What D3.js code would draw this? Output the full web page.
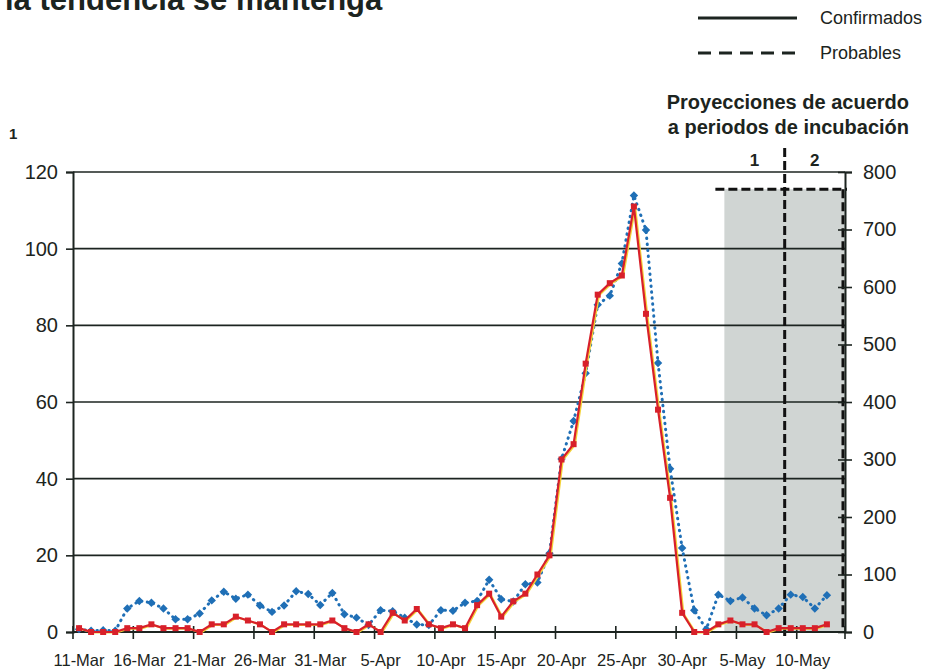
<!DOCTYPE html>
<html>
<head>
<meta charset="utf-8">
<script src="https://cdn.jsdelivr.net/npm/d3@7"></script>
<style>
	body { margin: 0; background: #fff; }
	svg { display: block; font-family: "Liberation Sans", Arial, sans-serif; }
</style>
</head>
<body>
<svg id="chart" width="939" height="669"></svg>
<script>
// categories: one per day, 11-Mar .. 13-May
var startDay = new Date(2009, 2, 11), endDay = new Date(2009, 4, 14);
var days = d3.timeDay.range(startDay, endDay);
var tickLabels = ["11-Mar","16-Mar","21-Mar","26-Mar","31-Mar","5-Apr","10-Apr","15-Apr","20-Apr","25-Apr","30-Apr","5-May","10-May"];

// confirmed cases, left axis
var confirmados = [1,0,0,0,1,1,2,1,1,1, 0,2,2,4,3,2,0,2,2,2,
	2,3,1,0,2,0,5,3,6,2, 1,2,1,7,10,4,8,10,15,20,
	45,49,70,88,91,93,111,83,58,35, 5,0,0,2,3,2,2,0,1,1, 1,1,2,null];
// probable cases, right axis
var probables = [5,2,3,2,41,54,51,41,22,22, 32,55,70,58,65,46,35,46,71,66,
	47,68,31,25,12,38,36,25,13,12, 38,37,51,54,91,57,53,83,86,137,
	301,367,450,569,585,641,759,699,468,284, 146,38,5,65,54,60,41,29,41,65, 61,41,64,null];

var leftTicks = [0,20,40,60,80,100,120];
var rightTicks = [0,100,200,300,400,500,600,700,800];
var legendLabels = ["Confirmados","Probables"];
var periodLabels = ["1","2"];
var periodStarts = [54, 59];   // index of 4-May and 9-May
var projectionTop = 770;       // right-axis units

var ink = "#1c2420";
var svg = d3.select("#chart");
var x0 = 73, x1 = 845, yTop = 172, yBot = 632;

var x = d3.scaleBand().domain(d3.range(days.length)).range([x0, x1]).padding(0);
var yL = d3.scaleLinear().domain([0,120]).range([yBot, yTop]);
var yR = d3.scaleLinear().domain([0,800]).range([yBot, yTop]);
var fmt = d3.timeFormat("%-d-%b");
var cx = function(i) {return x(i) + x.bandwidth()/2;};

// title (cut at the top like the scan)
svg.append("text").attr("x",5).attr("y",10).attr("font-size",31).attr("font-weight","bold")
	.attr("fill",ink).text("la tendencia se mantenga");

// legend
legendLabels.forEach(function(d,i) {
	var ly = 18 + i*35;
	svg.append("line").attr("x1",698).attr("x2",797).attr("y1",ly).attr("y2",ly)
		.attr("stroke",ink).attr("stroke-width",3)
		.attr("stroke-dasharray", i == 1 ? "13,8" : null);
	svg.append("text").attr("x",820).attr("y",ly+6).attr("font-size",18).attr("fill",ink).text(d);
});

svg.append("text").attr("x",909).attr("y",109).attr("text-anchor","end").attr("font-size",20)
	.attr("font-weight","bold").attr("fill",ink).text("Proyecciones de acuerdo");
svg.append("text").attr("x",909).attr("y",134).attr("text-anchor","end").attr("font-size",20)
	.attr("font-weight","bold").attr("fill",ink).text("a periodos de incubación");
svg.append("text").attr("x",9).attr("y",139).attr("font-size",15).attr("font-weight","bold")
	.attr("fill",ink).text("1");

// projection shading
svg.append("rect").attr("x",x(periodStarts[0])).attr("y",yR(projectionTop))
	.attr("width",x1 - x(periodStarts[0])).attr("height",yBot - yR(projectionTop))
	.attr("fill","#d0d5d3");

// grid lines
svg.append("g").selectAll("line").data(leftTicks.slice(1)).enter().append("line")
	.attr("x1",x0).attr("x2",x1).attr("y1",function(d){return yL(d);}).attr("y2",function(d){return yL(d);})
	.attr("stroke",ink).attr("stroke-width",1.6);

// dashed projection frame
var dash = svg.append("g").attr("stroke","#111").attr("stroke-width",3).attr("stroke-dasharray","9,4").attr("fill","none");
dash.append("line").attr("x1",x(periodStarts[0])-9).attr("x2",x1+2).attr("y1",yR(projectionTop)).attr("y2",yR(projectionTop));
dash.append("line").attr("x1",x(periodStarts[1])).attr("x2",x(periodStarts[1])).attr("y1",148).attr("y2",yBot+4);
dash.append("line").attr("x1",x1-2).attr("x2",x1-2).attr("y1",yR(projectionTop)).attr("y2",yBot);
svg.selectAll(".plabel").data(periodLabels).enter().append("text")
	.attr("x",function(d,i){ var a = x(periodStarts[i]); var b = i+1 < periodStarts.length ? x(periodStarts[i+1]) : x1; return (a+b)/2; })
	.attr("y",166).attr("text-anchor","middle").attr("font-size",17).attr("font-weight","bold")
	.attr("fill",ink).text(function(d){return d;});

// left axis
var gL = svg.append("g").attr("transform","translate("+x0+",0)")
	.call(d3.axisLeft(yL).tickValues(leftTicks).tickSize(7).tickPadding(8));
gL.select(".domain").attr("stroke",ink).attr("stroke-width",2);
gL.selectAll(".tick line").attr("stroke",ink).attr("stroke-width",1.6);
gL.selectAll("text").attr("font-size",20).attr("fill",ink).attr("font-family","Liberation Sans, Arial");

// right axis, ticks crossing the line
var gR = svg.append("g").attr("transform","translate("+x1+",0)")
	.call(d3.axisRight(yR).tickValues(rightTicks).tickSize(7).tickPadding(11));
gR.select(".domain").attr("stroke",ink).attr("stroke-width",2);
gR.selectAll(".tick line").attr("x1",-7).attr("stroke",ink).attr("stroke-width",1.6);
gR.selectAll("text").attr("font-size",20).attr("fill",ink).attr("font-family","Liberation Sans, Arial");

// x axis
svg.append("line").attr("x1",x0).attr("x2",x1).attr("y1",yBot).attr("y2",yBot)
	.attr("stroke",ink).attr("stroke-width",2);
var tickIdx = d3.range(days.length).filter(function(i){ return tickLabels.indexOf(fmt(days[i])) >= 0; });
svg.append("g").selectAll("line").data(tickIdx.concat([days.length])).enter().append("line")
	.attr("x1",function(i){return i < days.length ? x(i) : x1;}).attr("x2",function(i){return i < days.length ? x(i) : x1;})
	.attr("y1",yBot-6).attr("y2",yBot+7).attr("stroke",ink).attr("stroke-width",1.6);
svg.append("g").selectAll("text").data(tickIdx).enter().append("text")
	.attr("x",cx).attr("y",yBot+34)
	.attr("text-anchor","middle").attr("font-size",16.5).attr("fill",ink)
	.text(function(i){return fmt(days[i]);});

// probables: blue dotted with diamonds
var lineP = d3.line().defined(function(d){return d !== null;}).x(function(d,i){return cx(i);}).y(function(d){return yR(d);});
svg.append("path").datum(probables).attr("d",lineP).attr("fill","none")
	.attr("stroke","#1f6fb6").attr("stroke-width",3).attr("stroke-linecap","round").attr("stroke-dasharray","0.5,5.5");
svg.append("g").selectAll("rect").data(probables.map(function(d,i){return {v:d,i:i};}).filter(function(d){return d.v !== null;}))
	.enter().append("rect").attr("x",-3).attr("y",-3).attr("width",6).attr("height",6)
	.attr("transform",function(d){return "translate("+cx(d.i)+","+yR(d.v)+") rotate(45)";})
	.attr("fill","#1f6fb6");

// confirmados: red solid with squares (thin yellow fringe as in the print)
var lineC = d3.line().defined(function(d){return d !== null;}).x(function(d,i){return cx(i);}).y(function(d){return yL(d);});
svg.append("path").datum(confirmados).attr("d",lineC).attr("fill","none")
	.attr("stroke","#f3d33a").attr("stroke-width",2).attr("transform","translate(1.3,0.6)");
svg.append("path").datum(confirmados).attr("d",lineC).attr("fill","none")
	.attr("stroke","#d8202a").attr("stroke-width",2.2);
svg.append("g").selectAll("rect").data(confirmados.map(function(d,i){return {v:d,i:i};}).filter(function(d){return d.v !== null;}))
	.enter().append("rect")
	.attr("x",function(d){return cx(d.i)-3;}).attr("y",function(d){return yL(d.v)-3;})
	.attr("width",6).attr("height",6).attr("fill","#d8202a");
</script>
</body>
</html>
